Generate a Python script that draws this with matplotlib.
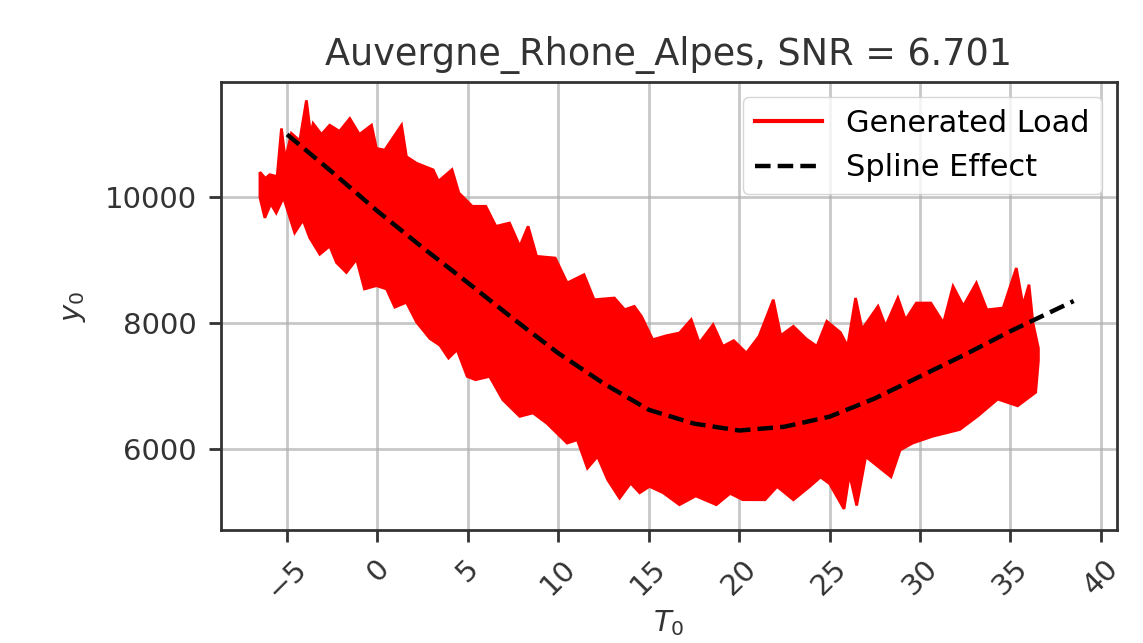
import numpy as np
import matplotlib
matplotlib.use("Agg")
import matplotlib.pyplot as plt
from matplotlib.lines import Line2D

title = "Auvergne_Rhone_Alpes, SNR = 6.701"

# Upper envelope of the generated load band (temperature, load)
upper_T = [-6.5, -6.2, -5.96, -5.55, -5.31, -5.1, -4.76, -4.3, -3.93, -3.7, -3.56, -3.1,
           -2.64, -2.1, -1.53, -1.0, -0.33, -0.06, 0.4, 1.33, 1.6, 2.16, 3.08, 3.37,
           4.12, 4.5, 5.24, 5.99, 6.55, 7.3, 7.87, 8.33, 8.8, 9.83, 10.49, 11.42, 11.98,
           13.1, 13.67, 14.2, 14.6, 15.22, 16.0, 16.7, 17.35, 17.8, 18.56, 19.1, 19.7,
           20.4, 21.1, 21.89, 22.3, 23.0, 23.7, 24.3, 24.85, 25.6, 26.0, 26.44, 26.8,
           27.68, 28.1, 28.78, 29.2, 29.8, 30.6, 31.3, 31.83, 32.4, 33.12, 33.7, 34.6,
           35.33, 35.7, 36.03, 36.25, 36.55]
upper_Y = [10400, 10300, 10360, 10330, 11095, 10600, 11016, 10900, 11542, 11000, 11174, 11000,
           11147, 11050, 11253, 11000, 11147, 10779, 10750, 11147, 10647, 10542, 10437, 10255,
           10440, 10069, 9857, 9857, 9538, 9591, 9220, 9538, 9061, 9034, 8637, 8769, 8371,
           8398, 8212, 8265, 8106, 7735, 7800, 7841, 8053, 7682, 7973, 7629, 7720,
           7523, 7788, 8371, 7800, 7947, 7750, 7629, 8027, 7850, 7629, 8398, 7900,
           8265, 7950, 8398, 8050, 8318, 8318, 8000, 8583, 8270, 8636, 8210, 8239,
           8875, 8280, 8610, 8000, 7600]

# Lower envelope of the generated load band (temperature, load)
lower_T = [-6.5, -6.23, -5.9, -5.6, -5.2, -4.58, -4.12, -3.75, -3.19, -2.64, -2.27, -1.72,
           -1.16, -0.72, -0.06, 0.5, 0.96, 1.6, 2.16, 2.9, 3.45, 3.93, 4.4, 4.96, 5.42,
           6.2, 6.93, 7.87, 8.6, 9.36, 10.49, 11.05, 11.61, 12.17, 12.73, 13.39, 14.0,
           14.5, 15.04, 15.8, 16.7, 17.6, 18.74, 19.5, 20.2, 21.43, 22.1, 23.0, 23.9,
           24.5, 25.0, 25.8, 26.1, 26.5, 27.0, 28.4, 28.9, 29.6, 30.7, 32.2, 33.2, 34.3,
           35.4, 36.4, 36.55]
lower_Y = [10000, 9674, 9900, 9753, 10000, 9437, 9640, 9358, 9095, 9226, 8963, 8805,
           9016, 8542, 8595, 8542, 8253, 8330, 8016, 7753, 7647, 7443, 7576, 7151, 7098,
           7151, 6780, 6515, 6570, 6408, 6090, 6143, 5692, 5880, 5507, 5215, 5454,
           5300, 5401, 5300, 5110, 5250, 5110, 5290, 5190, 5189, 5400, 5189, 5400,
           5550, 5446, 5043, 5600, 5097, 5876, 5554, 5980, 6091, 6199, 6306, 6522, 6790,
           6683, 6898, 7400]

# Spline effect
spline_T = [-5, -2.5, 0, 2.5, 5, 7.5, 10, 12.5, 15, 17.5, 20, 22.5, 25, 27.5, 30, 32.5, 35, 38.5]
spline_Y = [11000, 10400, 9780, 9200, 8640, 8070, 7520, 7040, 6620, 6400, 6290, 6350, 6510,
            6800, 7150, 7500, 7870, 8350]

plt.rcParams['font.family'] = ['DejaVu Sans']
fig = plt.figure(figsize=(11.43, 6.43), dpi=100)
ax = fig.add_axes([0.1931, 0.1757, 0.7842, 0.6972])

poly_T = np.concatenate([upper_T, lower_T[::-1]])
poly_Y = np.concatenate([upper_Y, lower_Y[::-1]])
ax.fill(poly_T, poly_Y, facecolor='#ff0000', edgecolor='#ff0000', linewidth=2.0, zorder=2)
ax.plot(spline_T, spline_Y, color='black', linestyle=(0, (3.5, 1.6)), linewidth=3.2, zorder=3)

ax.set_xlim(-8.67, 40.9)
ax.set_ylim(4707, 11839)
ax.set_xticks(np.arange(-5, 41, 5))
ax.set_yticks([6000, 8000, 10000])
ax.grid(True, color='#b0b0b0', linewidth=2.0, alpha=0.7, zorder=0)
ax.set_axisbelow(True)

ax.tick_params(axis='both', labelsize=21, length=8.3, width=2, pad=9,
               colors='#333333', labelcolor='#333333')
for lbl in ax.get_xticklabels():
    lbl.set_rotation(45)
for s in ax.spines.values():
    s.set_linewidth(2.0)
    s.set_color('#333333')

ax.set_title(title, fontsize=26.4, color='#333333', pad=12)
ax.set_xlabel('$T_0$', fontsize=21, color='#333333', labelpad=3)
ax.set_ylabel('$y_0$', fontsize=21, color='#333333', labelpad=12)

handles = [Line2D([], [], color='#ff0000', linewidth=3),
           Line2D([], [], color='black', linestyle=(0, (3.5, 1.6)), linewidth=3.2)]
ax.legend(handles, ['Generated Load', 'Spline Effect'], loc='upper right', fontsize=21.9,
          framealpha=0.8, edgecolor='#cccccc', handlelength=2.2, borderaxespad=0.5)

fig.savefig('out.png', dpi=100)
